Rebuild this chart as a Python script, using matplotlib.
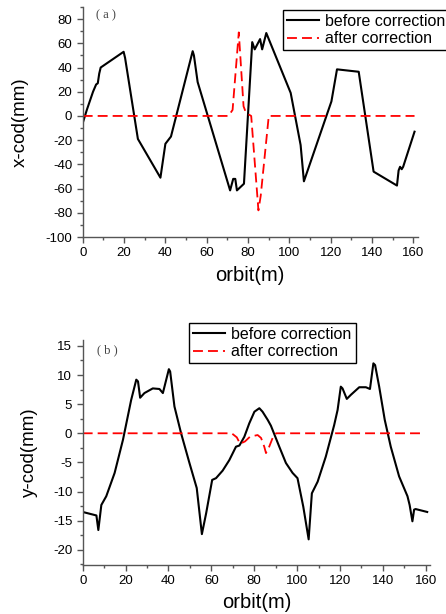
import matplotlib
matplotlib.use("Agg")
import matplotlib.pyplot as plt
from matplotlib.ticker import MultipleLocator

plt.rcParams['font.family'] = ['Liberation Sans', 'DejaVu Sans']
plt.rcParams['axes.unicode_minus'] = False

# (a) horizontal closed orbit distortion
xa_before = [0, 2, 5, 6.5, 7.3, 8, 8.7, 19.8, 20.5, 26.7, 37.6, 40, 42.7, 53.2, 53.8,
             55.6, 71.3, 72.8, 73.8, 74.6, 78, 82, 83.2, 85.8, 86.8, 88.8, 100.6,
             105.4, 107, 120.3, 123, 133.5, 140.7, 152, 152.8, 153.5, 154.3, 155, 160.5]
ya_before = [-6, 5, 20, 26, 27, 35, 40, 53, 48, -19, -51, -23, -17, 53.5, 50,
             28, -61.5, -52, -52, -61.5, -56, 61, 55, 63.5, 55, 68.5, 19,
             -24, -54, 12, 38.5, 36.5, -46, -57.5, -45, -42, -44, -42, -13]
xa_after = [0, 70.5, 72.5, 75.5, 77.8, 79, 81.5, 85, 86.1, 90, 160.5]
ya_after = [0, 0, 5, 69, 8, 2.5, 0, -78, -66, 0, 0]

# (b) vertical closed orbit distortion
xb_before = [0, 6.4, 7.3, 8.7, 11, 14.9, 18.8, 22.6, 25, 25.8, 26.8, 28.8, 32.7, 35.8,
             37.4, 40.2, 40.8, 42.8, 45.9, 49.8, 53.2, 55.6, 57.6, 60.4, 62.2, 65.3,
             68.4, 71.5, 73.1, 75.4, 77.7, 80.1, 82.4, 83.9, 86.3, 87.8, 91.7, 94.8,
             97.9, 100.2, 102.9, 105.4, 106.9, 109.6, 113.4, 117.3, 118.9, 120.4,
             121.2, 123.2, 125.1, 129, 132.1, 134, 135.6, 136.4, 138.3, 140.9, 143.7,
             147.6, 151.5, 152.5, 153.8, 154.6, 155.3, 160.7]
yb_before = [-13.5, -14.1, -16.6, -12.3, -10.8, -6.8, -1.1, 5.7, 9.2, 8.9, 6.1, 6.9, 7.7, 7.6,
             6.9, 11, 10.6, 4.6, 0, -5.1, -9.4, -17.3, -13.7, -8, -7.7, -6.4,
             -4.6, -2.3, -2.1, -0.6, 1.7, 3.7, 4.3, 3.7, 2.3, 1.3, -2.3, -5.1,
             -6.8, -7.7, -12.6, -18.2, -10.3, -8.3, -4, 1.4, 4, 8,
             7.7, 5.9, 6.6, 7.9, 7.9, 7.6, 12, 11.7, 8, 2.3, -2.3,
             -7.4, -10.8, -12.3, -15.1, -13.1, -13, -13.5]
xb_after = [0, 69.5, 71.9, 73.4, 75.7, 78, 81.6, 83.2, 84.7, 85.5, 87, 88.6, 90.2, 158]
yb_after = [0, 0, -0.7, -1.8, -1.4, -0.6, -0.3, -0.8, -2.3, -3.4, -2.3, -0.8, 0, 0]

fig = plt.figure(figsize=(4.46, 6.14), dpi=100)


def style_axes(ax):
    for side in ['top', 'right']:
        ax.spines[side].set_visible(False)
    for side in ['left', 'bottom']:
        ax.spines[side].set_color('#555555')
        ax.spines[side].set_linewidth(1.0)
    ax.tick_params(which='both', direction='out', colors='#555555',
                   labelcolor='black', labelsize=9.5, width=1.0)
    ax.tick_params(which='major', length=4)
    ax.tick_params(which='minor', length=2.5)


def add_legend(ax, x, y):
    leg = fig.legend(*ax.get_legend_handles_labels(), loc='upper left',
                     bbox_to_anchor=(x / 446, 1 - y / 614), fontsize=11.5,
                     frameon=True, fancybox=False, edgecolor='black', framealpha=1,
                     borderpad=0.25, labelspacing=0.15, handlelength=2.0,
                     handletextpad=0.4, borderaxespad=0)
    leg.get_frame().set_linewidth(1.0)


dash = (0, (5.5, 2.8))

# top panel
ax1 = fig.add_axes([0.1854, 0.614, 0.751, 0.3746])
ax1.plot(xa_before, ya_before, color='black', lw=1.5, label='before correction')
ax1.plot(xa_after, ya_after, color='red', lw=1.3, linestyle=dash, label='after correction')
ax1.set_xlim(0, 162)
ax1.set_ylim(-100, 90)
ax1.xaxis.set_major_locator(MultipleLocator(20))
ax1.xaxis.set_minor_locator(MultipleLocator(10))
ax1.yaxis.set_major_locator(MultipleLocator(20))
ax1.yaxis.set_minor_locator(MultipleLocator(10))
style_axes(ax1)
ax1.set_xlabel('orbit(m)', fontsize=14.5, labelpad=5)
ax1.set_ylabel('x-cod(mm)', fontsize=13.5, labelpad=12)
ax1.text(0.04, 0.965, '( a )', transform=ax1.transAxes, fontsize=9,
         family='Liberation Serif', color='#444444', va='center')
add_legend(ax1, 283, 10)

# bottom panel
ax2 = fig.add_axes([0.1854, 0.0798, 0.7787, 0.3664])
ax2.plot(xb_before, yb_before, color='black', lw=1.5, label='before correction')
ax2.plot(xb_after, yb_after, color='red', lw=1.3, linestyle=dash, label='after correction')
ax2.set_xlim(0, 162)
ax2.set_ylim(-22.6, 16)
ax2.xaxis.set_major_locator(MultipleLocator(20))
ax2.xaxis.set_minor_locator(MultipleLocator(10))
ax2.yaxis.set_major_locator(MultipleLocator(5))
ax2.yaxis.set_minor_locator(MultipleLocator(2.5))
style_axes(ax2)
ax2.set_xlabel('orbit(m)', fontsize=14.5, labelpad=4)
ax2.set_ylabel('y-cod(mm)', fontsize=13.5, labelpad=11)
ax2.text(0.04, 0.955, '( b )', transform=ax2.transAxes, fontsize=9,
         family='Liberation Serif', color='#444444', va='center')
add_legend(ax2, 189, 323)

fig.savefig('out.png', dpi=100)
